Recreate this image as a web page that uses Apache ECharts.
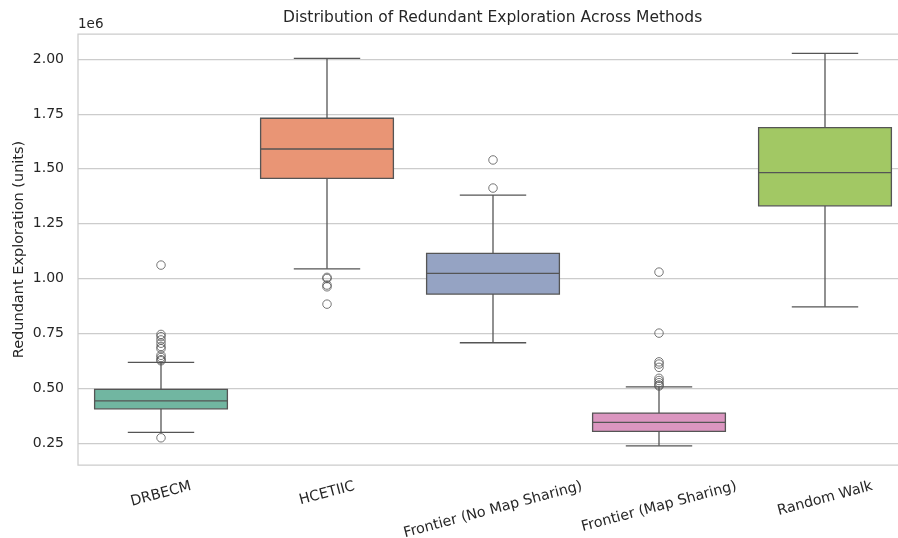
<!DOCTYPE html>
<html><head><meta charset="utf-8">
<script src="https://cdn.jsdelivr.net/npm/echarts@6/dist/echarts.min.js"></script>
<style>html,body{margin:0;padding:0;background:#fff}#c{width:898px;height:538px}</style>
</head><body><div id="c"></div>
<script>
// ---- data (values in units of 1e6, as shown on the axis) ----
const categories = ['DRBECM', 'HCETIIC', 'Frontier (No Map Sharing)', 'Frontier (Map Sharing)', 'Random Walk'];
// [lower whisker, Q1, median, Q3, upper whisker]
const drbecmBox = [0.2985, 0.406, 0.4426, 0.4945, 0.6176];
const hcetiicBox = [1.044, 1.456, 1.590, 1.730, 2.003];
const frontierNoMapBox = [0.707, 0.929, 1.023, 1.114, 1.380];
const frontierMapBox = [0.2375, 0.303, 0.344, 0.3865, 0.506];
const randomWalkBox = [0.871, 1.331, 1.482, 1.687, 2.026];
// outliers
const drbecmOutliers = [1.061, 0.745, 0.735, 0.72, 0.705, 0.69, 0.68, 0.65, 0.64, 0.63, 0.625, 0.274];
const hcetiicOutliers = [1.005, 1.0, 0.97, 0.962, 0.883];
const frontierNoMapOutliers = [1.540, 1.412];
const frontierMapOutliers = [1.029, 0.751, 0.62, 0.61, 0.595, 0.545, 0.535, 0.525, 0.515, 0.51];
const randomWalkOutliers = [];
const yTicks = [0.25, 0.50, 0.75, 1.00, 1.25, 1.50, 1.75, 2.00];
const yMin = 0.15, yMax = 2.114;

// ---- build ----
const boxes = [drbecmBox, hcetiicBox, frontierNoMapBox, frontierMapBox, randomWalkBox];
const outliers = [drbecmOutliers, hcetiicOutliers, frontierNoMapOutliers, frontierMapOutliers, randomWalkOutliers];
const fills = ['#71b6a1', '#e99575', '#95a3c3', '#db96c0', '#a2c864'];
const LINE = '#555555';
const boxData = boxes.map((b, i) => [i].concat(b));
const outData = [];
outliers.forEach((arr, i) => arr.forEach(v => outData.push([i, v])));

const FONT = '"DejaVu Sans", "Liberation Sans", sans-serif';
const TICK_FS = 14;
const XTICK_FS = 14.3;
const ctx = document.createElement('canvas').getContext('2d');
ctx.font = XTICK_FS + 'px "DejaVu Sans"';
const th = 15 * Math.PI / 180;
const rich = {};
categories.forEach((c, i) => {
  const w = ctx.measureText(c).width;
  rich['l' + i] = {
    fontSize: XTICK_FS, fontFamily: FONT, color: '#262626',
    padding: [w * Math.sin(th) * Math.cos(th), w * Math.sin(th) * Math.sin(th), 0, 0]
  };
});

const chart = echarts.init(document.getElementById('c'), null, {renderer: 'canvas'});
chart.setOption({
  animation: false,
  backgroundColor: '#ffffff',
  title: [
    {text: 'Distribution of Redundant Exploration Across Methods', left: 283, top: 10, padding: 0,
     textStyle: {fontSize: 15.5, fontWeight: 'normal', fontFamily: FONT, color: '#262626'}},
    {text: '1e6', left: 78, top: 17, padding: 0,
     textStyle: {fontSize: 13.5, fontWeight: 'normal', fontFamily: FONT, color: '#262626'}}
  ],
  grid: {left: 78, top: 34, width: 830, height: 431, show: true, borderColor: '#cccccc', borderWidth: 1.25,
    backgroundColor: '#ffffff', outerBoundsMode: 'none', containLabel: false},
  xAxis: {
    type: 'category', data: categories, boundaryGap: true,
    axisLine: {show: false}, axisTick: {show: false}, splitLine: {show: false},
    axisLabel: {
      rotate: 15, align: 'center', verticalAlign: 'middle', margin: 21, interval: 0,
      formatter: (v, i) => '{l' + i + '|' + v + '}', rich: rich
    }
  },
  yAxis: {
    type: 'value', min: yMin, max: yMax,
    name: 'Redundant Exploration (units)', nameLocation: 'middle', nameGap: 51, nameMoveOverlap: false,
    nameTextStyle: {fontSize: 14.5, fontFamily: FONT, color: '#262626'},
    axisLine: {show: false},
    axisTick: {show: false, customValues: yTicks},
    axisLabel: {customValues: yTicks, margin: 14, fontSize: TICK_FS, fontFamily: FONT, color: '#262626',
      formatter: v => v.toFixed(2)},
    splitLine: {show: true, lineStyle: {color: '#cccccc', width: 1.25}}
  },
  series: [
    {
      type: 'custom', data: boxData,
      encode: {x: 0, y: [1, 2, 3, 4, 5]},
      renderItem: (params, api) => {
        const i = api.value(0);
        const p = [1, 2, 3, 4, 5].map(k => api.coord([i, api.value(k)]));
        const cx = p[0][0];
        const bw = api.size([1, 0])[0] * 0.8;
        const ls = {stroke: LINE, lineWidth: 1.3, fill: null};
        return {type: 'group', children: [
          {type: 'line', shape: {x1: cx, y1: p[0][1], x2: cx, y2: p[1][1]}, style: ls},
          {type: 'line', shape: {x1: cx, y1: p[3][1], x2: cx, y2: p[4][1]}, style: ls},
          {type: 'line', shape: {x1: cx - bw / 4, y1: p[0][1], x2: cx + bw / 4, y2: p[0][1]}, style: ls},
          {type: 'line', shape: {x1: cx - bw / 4, y1: p[4][1], x2: cx + bw / 4, y2: p[4][1]}, style: ls},
          {type: 'rect', shape: {x: cx - bw / 2, y: p[3][1], width: bw, height: p[1][1] - p[3][1]},
           style: {fill: fills[params.dataIndex], stroke: LINE, lineWidth: 1.3}},
          {type: 'line', shape: {x1: cx - bw / 2, y1: p[2][1], x2: cx + bw / 2, y2: p[2][1]}, style: ls}
        ]};
      }
    },
    {
      type: 'scatter', data: outData, symbol: 'circle', symbolSize: 8.5,
      itemStyle: {color: 'rgba(0,0,0,0)', borderColor: LINE, borderWidth: 1}
    }
  ]
});
</script></body></html>
